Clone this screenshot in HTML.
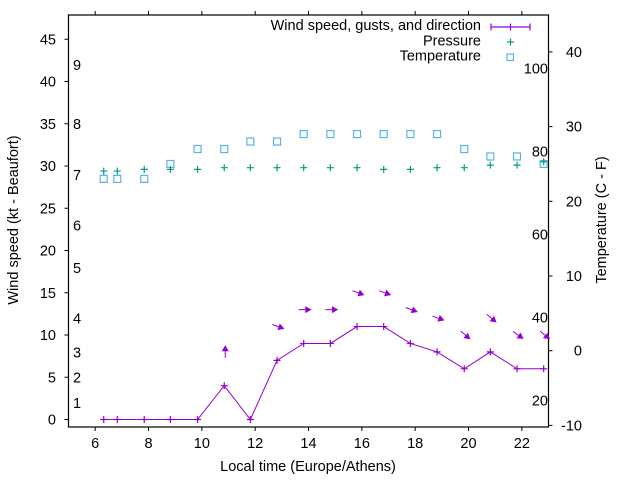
<!DOCTYPE html>
<html><head><meta charset="utf-8"><style>
html,body{margin:0;padding:0;background:#fff}
svg{display:block;font-family:"Liberation Sans",Arial,sans-serif}
</style></head><body>
<svg id="chart" width="640" height="480" viewBox="0 0 640 480" xmlns="http://www.w3.org/2000/svg">
<rect x="0" y="0" width="640" height="480" fill="#fff"/>
<g id="axes"></g>
<g id="marks"></g>
<g id="legend">
 <text x="481" y="30" font-size="14.5" text-anchor="end">Wind speed, gusts, and direction</text>
 <g stroke="#9400d3" stroke-width="1.2">
  <line x1="491" y1="27" x2="530" y2="27"/><line x1="491" y1="23.5" x2="491" y2="30.5"/><line x1="530" y1="23.5" x2="530" y2="30.5"/><line x1="510.5" y1="23.5" x2="510.5" y2="30.5"/>
 </g>
 <text x="481" y="45.5" font-size="14.5" text-anchor="end">Pressure</text>
 <g stroke="#009e73" stroke-width="1.2"><line x1="507" y1="42" x2="514" y2="42"/><line x1="510.5" y1="38.5" x2="510.5" y2="45.5"/></g>
 <text x="481" y="60.5" font-size="14.5" text-anchor="end">Temperature</text>
 <rect x="507" y="54" width="6.5" height="6.5" fill="none" stroke="#56b4e9" stroke-width="1.2"/>
</g>
<text transform="translate(18,220) rotate(-90)" font-size="14.5" text-anchor="middle">Wind speed (kt - Beaufort)</text>
<text transform="translate(606,220) rotate(-90)" font-size="14.5" text-anchor="middle">Temperature (C - F)</text>
<text x="308" y="471" font-size="14.5" text-anchor="middle">Local time (Europe/Athens)</text>
</svg>
<script>
const hours = [6.32,6.83,7.84,8.82,9.84,10.84,11.82,12.82,13.82,14.82,15.82,16.82,17.82,18.82,19.84,20.82,21.82,22.82];
const windSpeed = [0,0,0,0,0,4,0,7,9,9,11,11,9,8,6,8,6,6];
const gustSpeed = [null,null,null,null,null,8,null,11,13,13,15,15,13,12,10,12,10,10];
const windDirDeg = [null,null,null,null,null,-90,null,20,0,0,20,20,20,20,40,40,35,40];
const pressure = [29.4,29.4,29.6,29.6,29.6,29.8,29.8,29.8,29.8,29.8,29.8,29.6,29.6,29.8,29.8,30.1,30.1,30.5];
const temperatureC = [23,23,23,25,27,27,28,28,29,29,29,29,29,29,27,26,26,25];
const xTicks = [6,8,10,12,14,16,18,20,22];
const yTicks = [0,5,10,15,20,25,30,35,40,45];
const y2Ticks = [-10,0,10,20,30,40];
const beaufortLabels = ["1","2","3","4","5","6","7","8","9"];
const beaufortKt = [1,4,7,11,17,22,28,34,41];
const fahrenheitLabels = ["20","40","60","80","100"];

const L=68.5,R=548.5,T=15,B=427;
const X=h=>L+(h-5)*(R-L)/18;
const Y=v=>419.5-v*8.45;
const Y2=c=>350.7-c*7.47;
const NS="http://www.w3.org/2000/svg";
function mk(tag,attrs,parent){const e=document.createElementNS(NS,tag);for(const k in attrs)e.setAttribute(k,attrs[k]);parent.appendChild(e);return e;}
const axes=document.getElementById('axes'),marks=document.getElementById('marks');

const frame=mk('rect',{x:L,y:T,width:R-L,height:B-T,fill:'none',stroke:'#000','stroke-width':1.2},axes);


xTicks.forEach(t=>{
  const x=X(t);
  const tk=mk('path',{d:`M${x},${B}v4M${x},${T}v-4`,stroke:'#000','stroke-width':1},axes);
  
  
  const tx=mk('text',{x:x,y:B+21,'font-size':14.5,'text-anchor':'middle'},axes);tx.textContent=t;
  
  
});
yTicks.forEach(t=>{
  const y=Y(t);
  const tk=mk('path',{d:`M${L},${y}h-4`,stroke:'#000','stroke-width':1},axes);
  
  
  const tx=mk('text',{x:56,y:y+5,'font-size':14.5,'text-anchor':'end'},axes);tx.textContent=t;
  
  
});
y2Ticks.forEach(t=>{
  const y=Y2(t);
  const tk=mk('path',{d:`M${R},${y}h4`,stroke:'#000','stroke-width':1},axes);
  
  
  const tx=mk('text',{x:582,y:y+5,'font-size':14.5,'text-anchor':'end'},axes);tx.textContent=t;
  
  
});
beaufortLabels.forEach((lab,i)=>{
  const tx=mk('text',{x:73,y:Y(beaufortKt[i])-3,'font-size':14.5},axes);tx.textContent=lab;
  
  
});
fahrenheitLabels.forEach(lab=>{
  const c=(Number(lab)-32)*5/9;
  const tx=mk('text',{x:548,y:Y2(c)+5,'font-size':14.5,'text-anchor':'end'},axes);tx.textContent=lab;
  
  
});

// temperature
temperatureC.forEach((c,i)=>{
  const r=mk('rect',{x:X(hours[i])-3.5,y:Y2(c)-3.5,width:7,height:7,fill:'none',stroke:'#56b4e9','stroke-width':1.2},marks);
  
  
});
// pressure
pressure.forEach((p,i)=>{
  const x=X(hours[i]),y=Y(p);
  const e=mk('path',{d:`M${x-3.5},${y}h7M${x},${y-3.5}v7`,stroke:'#009e73','stroke-width':1.2},marks);
  
  
});
// wind line
const wl=mk('polyline',{points:windSpeed.map((v,i)=>X(hours[i])+','+Y(v)).join(' '),fill:'none',stroke:'#9400d3','stroke-width':1},marks);


windSpeed.forEach((v,i)=>{
  const x=X(hours[i]),y=Y(v);
  const e=mk('path',{d:`M${x-3.5},${y}h7M${x},${y-3.5}v7`,stroke:'#9400d3','stroke-width':1.2},marks);
  
  
});
// gust arrows
gustSpeed.forEach((g,i)=>{
  if(g===null)return;
  const a=windDirDeg[i]*Math.PI/180,cx=X(hours[i])+1,cy=Y(g),len=12;
  const dx=Math.cos(a),dy=Math.sin(a);
  const x1=cx-dx*len/2,y1=cy-dy*len/2,x2=cx+dx*len/2,y2=cy+dy*len/2;
  const hl=5,hw=2.8;
  const bx=x2-dx*hl,by=y2-dy*hl;
  const grp=mk('g',{},marks);
  
  
  mk('line',{x1:x1,y1:y1,x2:bx,y2:by,stroke:'#9400d3','stroke-width':1},grp);
  mk('polygon',{points:`${x2},${y2} ${bx-dy*hw},${by+dx*hw} ${bx+dy*hw},${by-dx*hw}`,fill:'#9400d3',stroke:'#9400d3','stroke-width':0.8},grp);
});
</script>
</body></html>
